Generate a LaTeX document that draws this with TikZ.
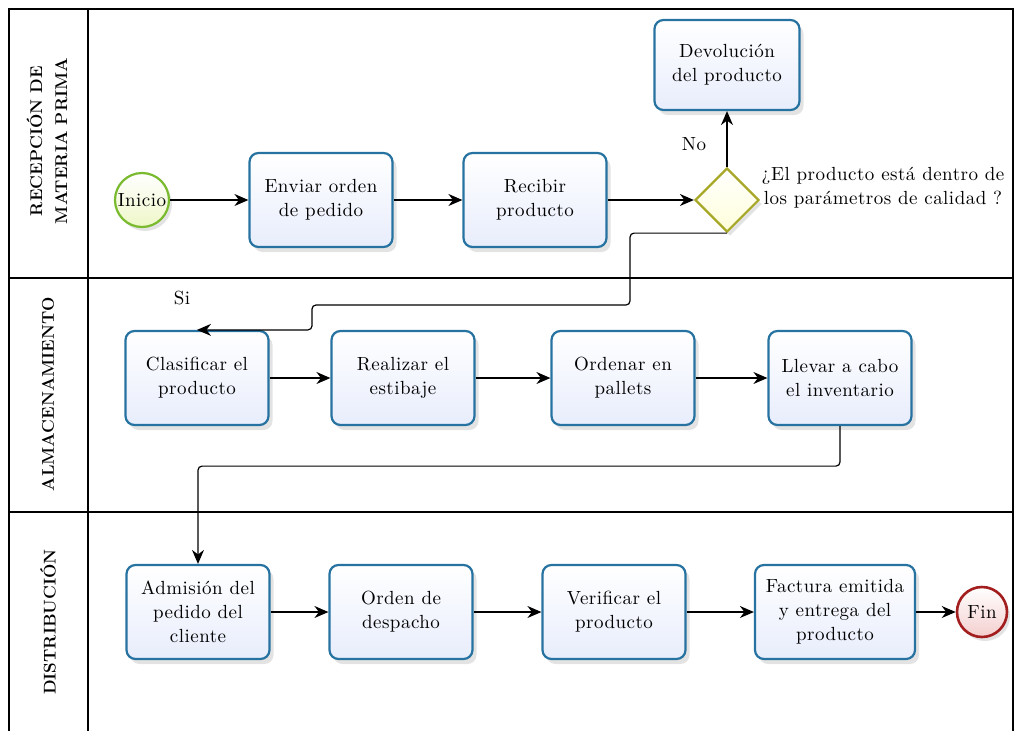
\documentclass[tikz,border=0pt]{standalone}
\usepackage{fontspec}
\usepackage{tikz}
\usetikzlibrary{shapes.geometric,shadows,arrows.meta}

\newfontfamily\bpmnfont{lmroman10-regular.otf}[LetterSpace=2.5]

\definecolor{taskline}{RGB}{38,114,160}
\definecolor{taskfill}{RGB}{232,237,252}
\definecolor{startline}{RGB}{122,186,46}
\definecolor{startfill}{RGB}{238,247,200}
\definecolor{endline}{RGB}{163,30,30}
\definecolor{endfill}{RGB}{244,206,206}
\definecolor{gateline}{RGB}{168,168,40}
\definecolor{gatefill}{RGB}{255,255,218}

\begin{document}
\begin{tikzpicture}[x=1pt, y=-1pt, font=\bpmnfont\fontsize{19}{24}\selectfont, >={Stealth[length=14pt,width=12pt]}]

\tikzstyle{lane}=[draw, line width=1.3pt]
\tikzstyle{lanetext}=[rotate=90, align=center, font=\normalfont\bfseries\fontsize{17}{25}\selectfont]
\tikzstyle{task}=[draw=taskline, line width=2.2pt, rounded corners=9pt, top color=white, bottom color=taskfill, minimum width=143pt, minimum height=94pt, align=center, drop shadow={opacity=0.22, shadow xshift=4pt, shadow yshift=-5pt}]
\tikzstyle{start}=[draw=startline, line width=2.2pt, circle, top color=white, bottom color=startfill, minimum size=54pt, inner sep=0pt, drop shadow={opacity=0.22, shadow xshift=3pt, shadow yshift=-4pt}]
\tikzstyle{finish}=[draw=endline, line width=2.6pt, circle, top color=white, bottom color=endfill, minimum size=50pt, inner sep=0pt, drop shadow={opacity=0.22, shadow xshift=3pt, shadow yshift=-4pt}]
\tikzstyle{gate}=[draw=gateline, line width=2.2pt, diamond, aspect=1, top color=white, bottom color=gatefill, minimum size=64pt, inner sep=0pt, drop shadow={opacity=0.22, shadow xshift=3pt, shadow yshift=-4pt}]
\tikzstyle{flow}=[draw, line width=1.2pt, ->]

\useasboundingbox (0,0) rectangle (1015,731);
\clip (0,0) rectangle (1015,731);

% pool and lanes
\draw[lane] (9,740) -- (9,9) -- (1013,9) -- (1013,740);
\draw[lane] (88,9) -- (88,740);
\draw[lane] (9,278) -- (1013,278);
\draw[lane] (9,512) -- (1013,512);
\node[lanetext] (lane1) at (47,141) {RECEPCIÓN DE\\MATERIA PRIMA};
\node[lanetext] (lane2) at (48,394) {ALMACENAMIENTO};
\node[lanetext] (lane3) at (48,622) {DISTRIBUCIÓN};

% recepcion
\node[start] (inicio) at (142,200) {Inicio};
\node[task] (enviar) at (321,200) {Enviar orden\\de pedido}; \node[task] (recibir) at (535,200) {Recibir\\producto};
\node[gate] (calidad) at (727,200) {};
\node[align=center] (pregunta) at (883,188) {¿El producto está dentro de\\los parámetros de calidad ?};
\node[task, minimum width=145pt, minimum height=90pt] (devol) at (727,65) {Devolución\\del producto};
\node (no) at (694,144) {No};
\node (si) at (182,298) {Si};

% almacenamiento
\node[task] (clasif) at (197,378) {Clasificar el\\producto}; \node[task] (estiba) at (403,378) {Realizar el\\estibaje};
\node[task] (pallets) at (623,378) {Ordenar en\\pallets}; \node[task] (invent) at (840,378) {Llevar a cabo\\el inventario};

% distribucion
\node[task] (admis) at (198,612) {Admisión del\\pedido del\\cliente}; \node[task] (despacho) at (401,612) {Orden de\\despacho};
\node[task] (verif) at (614,612) {Verificar el\\producto}; \node[task, minimum width=160pt] (factura) at (835,612) {Factura emitida\\y entrega del\\producto};
\node[finish] (fin) at (982,612) {Fin};

% flujo
\draw[flow] (inicio) -- (enviar);
\draw[flow] (enviar) -- (recibir);
\draw[flow] (recibir) -- (calidad);
\draw[flow] (calidad) -- (devol);
\draw[flow, rounded corners=4pt] (calidad.south) -| (630,305) -- (312,305) |- (clasif.north);
\draw[flow] (clasif) -- (estiba);
\draw[flow] (estiba) -- (pallets);
\draw[flow] (pallets) -- (invent);
\draw[flow, rounded corners=4pt] (invent.south) -- ++(0,40) -| (admis.north);
\draw[flow] (admis) -- (despacho);
\draw[flow] (despacho) -- (verif);
\draw[flow] (verif) -- (factura);
\draw[flow] (factura) -- (fin);

\end{tikzpicture}
\end{document}
